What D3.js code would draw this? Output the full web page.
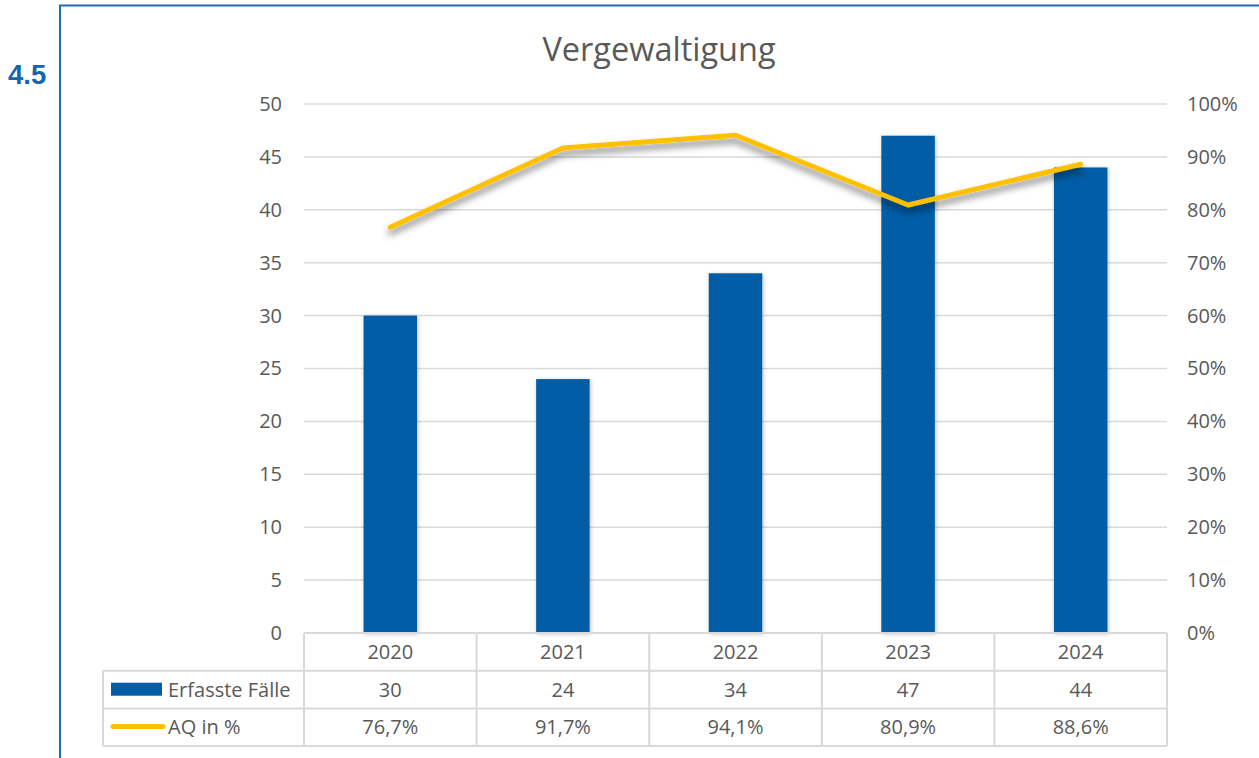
<!DOCTYPE html>
<html>
<head>
<meta charset="utf-8">
<script src="https://cdn.jsdelivr.net/npm/d3@7"></script>
<style>
  body { margin: 0; background: #fff; }
  svg { display: block; font-family: "Open Sans", sans-serif; }
</style>
</head>
<body>
<div id="chart"></div>
<script>
// chart data
var years = ["2020", "2021", "2022", "2023", "2024"];
var faelle = [30, 24, 34, 47, 44];
var aq = [76.7, 91.7, 94.1, 80.9, 88.6];
var leftTicks = [0, 5, 10, 15, 20, 25, 30, 35, 40, 45, 50];
var rightTicks = [0, 10, 20, 30, 40, 50, 60, 70, 80, 90, 100];
var seriesNames = ["Erfasste Fälle", "AQ in %"];

var barColor = "#005DA6",
	lineColor = "#FFC000",
	textColor = "#595959",
	gridColor = "#D9D9D9",
	fontSize = "20px";

var svg = d3.select("#chart")
	.append("svg")
	.attr("width", 1259)
	.attr("height", 758);

var defs = svg.append("defs");
var shadow = defs.append("filter")
	.attr("id", "shadow")
	.attr("x", "-20%").attr("y", "-50%")
	.attr("width", "140%").attr("height", "200%");
shadow.append("feDropShadow")
	.attr("dx", 0).attr("dy", 5)
	.attr("stdDeviation", 3.5)
	.attr("flood-color", "#000")
	.attr("flood-opacity", 0.5);
var barShadow = defs.append("filter")
	.attr("id", "barShadow")
	.attr("x", "-20%").attr("y", "-10%")
	.attr("width", "140%").attr("height", "120%");
barShadow.append("feDropShadow")
	.attr("dx", 1).attr("dy", 1)
	.attr("stdDeviation", 2)
	.attr("flood-color", "#000")
	.attr("flood-opacity", 0.25);

// frame
svg.append("path")
	.attr("d", "M60,758 V5.5 H1259")
	.attr("fill", "none")
	.attr("stroke", "#1F6CB3")
	.attr("stroke-width", 2);

svg.append("text")
	.attr("x", 8)
	.attr("y", 84)
	.style("font-family", "Liberation Sans, Arial, sans-serif")
	.style("font-weight", "bold")
	.style("font-size", "27.5px")
	.style("fill", "#1565B0")
	.text("4.5");

// title
svg.append("text")
	.attr("x", 659)
	.attr("y", 61)
	.attr("text-anchor", "middle")
	.style("font-size", "32.5px")
	.style("fill", textColor)
	.text("Vergewaltigung");

var plotLeft = 304, plotRight = 1167, plotTop = 104, plotBottom = 633;

var x = d3.scaleBand()
	.domain(years)
	.range([plotLeft, plotRight]);

var y = d3.scaleLinear()
	.domain([0, 50])
	.range([plotBottom, plotTop]);

var y2 = d3.scaleLinear()
	.domain([0, 100])
	.range([plotBottom, plotTop]);

// gridlines
svg.append("g")
	.selectAll("line")
	.data(leftTicks.slice(1))
	.enter()
	.append("line")
	.attr("x1", plotLeft)
	.attr("x2", plotRight)
	.attr("y1", function(d) { return y(d); })
	.attr("y2", function(d) { return y(d); })
	.attr("stroke", gridColor)
	.attr("stroke-width", 1.5);

// left axis
var yAxis = svg.append("g")
	.attr("transform", "translate(" + plotLeft + ",0)")
	.call(d3.axisLeft(y).tickValues(leftTicks).tickSize(0).tickPadding(22));
yAxis.select(".domain").remove();
yAxis.selectAll("text")
	.style("font-size", fontSize)
	.style("fill", textColor)
	.style("font-family", "'Open Sans', sans-serif");

// right axis
var y2Axis = svg.append("g")
	.attr("transform", "translate(" + plotRight + ",0)")
	.call(d3.axisRight(y2).tickValues(rightTicks).tickSize(0).tickPadding(20)
		.tickFormat(function(d) { return d + "%"; }));
y2Axis.select(".domain").remove();
y2Axis.selectAll("text")
	.style("font-size", fontSize)
	.style("fill", textColor)
	.style("font-family", "'Open Sans', sans-serif");

// bars
var barW = x.bandwidth() * 0.31;
svg.append("g")
	.selectAll("rect")
	.data(faelle)
	.enter()
	.append("rect")
	.attr("x", function(d, i) { return x(years[i]) + x.bandwidth() / 2 - barW / 2; })
	.attr("y", function(d) { return y(d); })
	.attr("width", barW)
	.attr("height", function(d) { return plotBottom - y(d); })
	.attr("fill", barColor)
	.attr("filter", "url(#barShadow)");

// line
var line = d3.line()
	.x(function(d, i) { return x(years[i]) + x.bandwidth() / 2; })
	.y(function(d) { return y2(d); });

svg.append("path")
	.datum(aq)
	.attr("d", line)
	.attr("fill", "none")
	.attr("stroke", lineColor)
	.attr("stroke-width", 5)
	.attr("stroke-linecap", "round")
	.attr("stroke-linejoin", "round")
	.attr("filter", "url(#shadow)");

// data table
var tableLeft = 103, rowH = 37.7;
var rows = [plotBottom, plotBottom + rowH, plotBottom + 2 * rowH, plotBottom + 3 * rowH];
var table = svg.append("g")
	.attr("stroke", gridColor)
	.attr("stroke-width", 2);

// horizontal lines
table.append("line")
	.attr("x1", plotLeft).attr("x2", plotRight)
	.attr("y1", rows[0]).attr("y2", rows[0]);
[1, 2, 3].forEach(function(r) {
	table.append("line")
		.attr("x1", tableLeft).attr("x2", plotRight)
		.attr("y1", rows[r]).attr("y2", rows[r]);
});
// vertical lines
table.append("line")
	.attr("x1", tableLeft).attr("x2", tableLeft)
	.attr("y1", rows[1]).attr("y2", rows[3]);
years.forEach(function(yr) {
	table.append("line")
		.attr("x1", x(yr)).attr("x2", x(yr))
		.attr("y1", rows[0]).attr("y2", rows[3]);
});
table.append("line")
	.attr("x1", plotRight).attr("x2", plotRight)
	.attr("y1", rows[0]).attr("y2", rows[3]);

var cellText = function(txt, cx, row) {
	svg.append("text")
		.attr("x", cx)
		.attr("y", rows[row] + rowH / 2)
		.attr("dy", "0.35em")
		.attr("text-anchor", "middle")
		.style("font-size", fontSize)
		.style("fill", textColor)
		.text(txt);
};

years.forEach(function(yr, i) {
	var cx = x(yr) + x.bandwidth() / 2;
	cellText(yr, cx, 0);
	cellText(faelle[i], cx, 1);
	cellText(aq[i].toFixed(1).replace(".", ",") + "%", cx, 2);
});

// legend keys in table
svg.append("rect")
	.attr("x", 111)
	.attr("y", rows[1] + 12)
	.attr("width", 51)
	.attr("height", 13)
	.attr("fill", barColor);
svg.append("line")
	.attr("x1", 113).attr("x2", 163)
	.attr("y1", rows[2] + 18).attr("y2", rows[2] + 18)
	.attr("stroke", lineColor)
	.attr("stroke-width", 5)
	.attr("stroke-linecap", "round");

seriesNames.forEach(function(name, i) {
	svg.append("text")
		.attr("x", 168)
		.attr("y", rows[i + 1] + rowH / 2)
		.attr("dy", "0.35em")
		.style("font-size", fontSize)
		.style("fill", textColor)
		.text(name);
});
</script>
</body>
</html>
